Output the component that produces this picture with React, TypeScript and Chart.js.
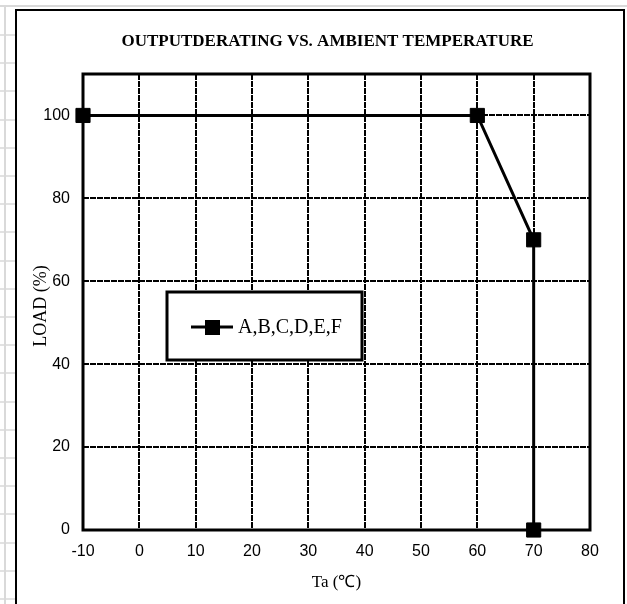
import React, { useEffect, useRef } from "react";
import { Chart, registerables } from "chart.js";

Chart.register(...registerables);

const temperatures = [-10, 60, 70, 70];
const loads = [100, 100, 70, 0];
const seriesLabel = "A,B,C,D,E,F";
const chartTitle = "OUTPUTDERATING VS. AMBIENT TEMPERATURE";
const xAxisTitle = "Ta (\u2103)";
const yAxisTitle = "LOAD (%)";
const xMin = -10;
const xMax = 80;
const xStep = 10;
const yMin = 0;
const yMax = 110;
const yStep = 20;

const decorPlugin = {
  id: "decor",
  beforeDraw(chart: any) {
    const { ctx, width, height } = chart;
    ctx.save();
    ctx.fillStyle = "#ffffff";
    ctx.fillRect(0, 0, width, height);
    // spreadsheet grey lines
    ctx.strokeStyle = "#d9d9d9";
    ctx.lineWidth = 2;
    ctx.beginPath();
    ctx.moveTo(0, 6);
    ctx.lineTo(width, 6);
    ctx.moveTo(5, 6);
    ctx.lineTo(5, height);
    ctx.stroke();
    ctx.lineWidth = 1.5;
    ctx.beginPath();
    for (let y = 35; y < height; y += 28.2) {
      ctx.moveTo(0, Math.round(y));
      ctx.lineTo(16, Math.round(y));
    }
    ctx.stroke();
    // outer chart border
    ctx.strokeStyle = "#000";
    ctx.lineWidth = 2;
    ctx.strokeRect(16, 10, 608, height + 20);
    ctx.restore();
  },
  beforeDatasetsDraw(chart: any) {
    const { ctx, chartArea } = chart;
    ctx.save();
    ctx.strokeStyle = "#000";
    ctx.lineWidth = 3;
    ctx.strokeRect(chartArea.left, chartArea.top, chartArea.right - chartArea.left, chartArea.bottom - chartArea.top);
    ctx.restore();
  },
  afterDraw(chart: any) {
    const { ctx, chartArea } = chart;
    const cx = (chartArea.left + chartArea.right) / 2;
    const cy = (chartArea.top + chartArea.bottom) / 2;
    ctx.save();
    ctx.fillStyle = "#000";
    ctx.textAlign = "center";
    ctx.textBaseline = "middle";
    ctx.font = "bold 17px 'Liberation Serif', 'Times New Roman', serif";
    ctx.fillText(chartTitle, cx - 9, 42);
    ctx.font = "17px 'Liberation Serif', 'Times New Roman', serif";
    ctx.fillText(xAxisTitle, cx, 583);
    ctx.font = "18px 'Liberation Serif', 'Times New Roman', serif";
    ctx.translate(41, cy + 4);
    ctx.rotate(-Math.PI / 2);
    ctx.fillText(yAxisTitle, 0, 0);
    ctx.restore();

    // legend box
    ctx.save();
    ctx.fillStyle = "#fff";
    ctx.fillRect(167, 292, 195, 68);
    ctx.strokeStyle = "#000";
    ctx.lineWidth = 3;
    ctx.strokeRect(167, 292, 195, 68);
    ctx.beginPath();
    ctx.moveTo(191, 327);
    ctx.lineTo(233, 327);
    ctx.stroke();
    ctx.fillStyle = "#000";
    ctx.fillRect(205, 320, 15, 15);
    ctx.font = "20px 'Liberation Serif', 'Times New Roman', serif";
    ctx.textAlign = "left";
    ctx.textBaseline = "middle";
    ctx.fillText(seriesLabel, 238, 328);
    ctx.restore();
  },
};

export default function App() {
  const ref = useRef<HTMLCanvasElement | null>(null);
  useEffect(() => {
    if (!ref.current) return;
    const chart = new Chart(ref.current, {
      type: "line",
      data: {
        datasets: [
          {
            label: seriesLabel,
            data: temperatures.map((t, i) => ({ x: t, y: loads[i] })),
            borderColor: "#000",
            backgroundColor: "#000",
            borderWidth: 3,
            pointStyle: "rect",
            pointRadius: 10,
            pointBorderWidth: 1,
            pointBackgroundColor: "#000",
            pointBorderColor: "#000",
            clip: false,
            tension: 0,
          } as any,
        ],
      },
      options: {
        animation: false,
        responsive: false,
        layout: { padding: { top: 74, right: 37, left: 0, bottom: 0 } },
        plugins: { legend: { display: false }, title: { display: false }, tooltip: { enabled: false } },
        scales: {
          x: {
            type: "linear",
            min: xMin,
            max: xMax,
            ticks: {
              stepSize: xStep,
              padding: 12,
              color: "#000",
              font: { family: "'Liberation Sans', Arial, sans-serif", size: 16 },
            },
            grid: { color: "#000", lineWidth: 2, drawTicks: false },
            border: { display: false, dash: [6, 1] },
            afterFit: (s: any) => {
              s.height = 74;
            },
          } as any,
          y: {
            type: "linear",
            min: yMin,
            max: yMax,
            ticks: {
              stepSize: yStep,
              padding: 13,
              color: "#000",
              font: { family: "'Liberation Sans', Arial, sans-serif", size: 16 },
              callback: (v: any) => (v > 100 ? null : String(v)),
            },
            grid: { color: "#000", lineWidth: 2, drawTicks: false },
            border: { display: false, dash: [6, 1] },
            afterFit: (s: any) => {
              s.width = 83;
            },
          } as any,
        },
      },
      plugins: [decorPlugin],
    });
    return () => chart.destroy();
  }, []);
  return (
    <div style={{ position: "fixed", left: 0, top: 0, width: 627, height: 604, background: "#fff" }}>
      <canvas ref={ref} width={627} height={604} style={{ display: "block" }} />
    </div>
  );
}
